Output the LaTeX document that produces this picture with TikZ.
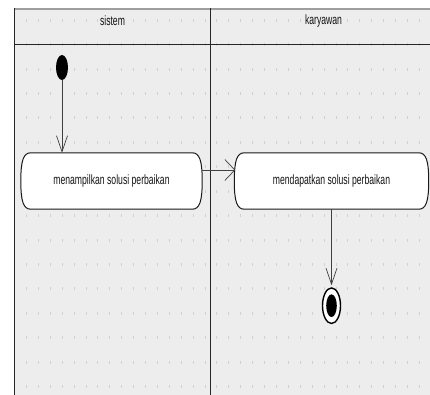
\documentclass[tikz,border=0pt]{standalone}
\usepackage{fontspec}
\setmainfont{Liberation Sans}[FakeStretch=0.64]
\usetikzlibrary{arrows.meta,shapes.geometric,calc}
\pgfdeclarelayer{canvas}
\pgfdeclarelayer{shapes}
\pgfsetlayers{canvas,shapes,main}

% Activity box with flat top/bottom and bowed ends
\newcommand\activitybox[1]{%
  \draw[action]
    ($(#1.north west)+(10,0)$) -- ($(#1.north east)+(-10,0)$)
    .. controls ($(#1.north east)+(-2.5,0)$) and ($(#1.east)+(0,-20)$) .. (#1.east)
    .. controls ($(#1.east)+(0,20)$) and ($(#1.south east)+(-2.5,0)$) .. ($(#1.south east)+(-10,0)$)
    -- ($(#1.south west)+(10,0)$)
    .. controls ($(#1.south west)+(2.5,0)$) and ($(#1.west)+(0,20)$) .. (#1.west)
    .. controls ($(#1.west)+(0,-20)$) and ($(#1.north west)+(2.5,0)$) .. cycle;}

\begin{document}
\begin{tikzpicture}[x=1pt,y=-1pt,
  lane/.style={draw=black!85, line width=1pt},
  griddot/.style={draw=black!18, line width=0.9pt},
  action/.style={draw=black!90, fill=white, line width=1pt},
  flow/.style={draw=black!75, line width=0.7pt},
  label/.style={font=\fontsize{13.5}{15}\selectfont, text=black!92, inner sep=0pt},
  slot/.style={minimum width=181pt, minimum height=56pt, inner sep=0pt}
]
\useasboundingbox (0,0) rectangle (430,395);

\begin{pgfonlayer}{canvas}
  \fill[white] (0,0) rectangle (430,395);
  \fill[black!7] (14,8) rectangle (430,395);
  % dotted grid in both lanes
  \foreach \r in {0,...,15}{
    \foreach \c in {0,...,15}
      \draw[griddot] ({26.3+11.93*\c},{20.4+24.4*\r-1.5}) -- ++(0,3);
    \foreach \c in {0,...,17}
      \draw[griddot] ({216.7+11.93*\c},{20.4+24.4*\r-1.5}) -- ++(0,3);
  }
  % swimlane frame
  \draw[black!38, line width=2.2pt] (14,9) -- (430,9);
  \draw[lane, line width=1.4pt] (14.6,8) -- (14.6,395);
  \draw[lane, line width=1.8pt] (14,44.5) -- (430,44.5);
  \draw[lane] (210.5,8) -- (210.5,395);
\end{pgfonlayer}

% lane headers
\node[label] (hsistem) at (112.5,21) {sistem};
\node[label] (hkaryawan) at (323.5,21) {karyawan};

% nodes
\node[ellipse, fill=black, minimum width=12pt, minimum height=25pt, inner sep=0pt] (start) at (62,67.5) {};
\node[slot, minimum width=181pt] (a1) at (111.5,181) {};
\node[slot, minimum width=194pt] (a2) at (331.5,181) {};
\begin{pgfonlayer}{shapes}
  \activitybox{a1}
  \activitybox{a2}
\end{pgfonlayer}
\node[label] (t1) at (a1) {menampilkan solusi perbaikan};
\node[label] (t2) at (a2) {mendapatkan solusi perbaikan};

\node[ellipse, draw=black, line width=1.4pt, fill=white, minimum width=18pt, minimum height=35.5pt, inner sep=0pt] (end) at (331.5,305.7) {};
\node[ellipse, fill=black, minimum width=10.6pt, minimum height=22.7pt, inner sep=0pt] (endcore) at (end) {};

% flows
\coordinate (row) at (0,170);
\draw[flow, -{Straight Barb[length=16pt, width=11pt]}] (start) -- (start |- a1.north);
\draw[flow, -{Straight Barb[length=10pt, width=21pt]}] (a1.east |- row) -- ($(a2.west |- row)+(1,0)$);
\draw[flow, shorten >=2pt, -{Straight Barb[length=16pt, width=11pt]}] (a2) ++(0,28) -- (end);
\end{tikzpicture}
\end{document}
